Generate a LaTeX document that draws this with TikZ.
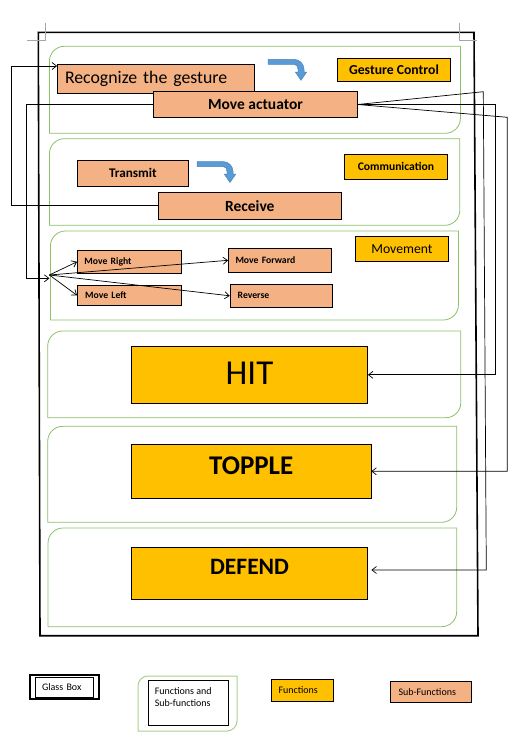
\documentclass[tikz,border=0pt]{standalone}
\usepackage{fontspec}
\setmainfont{Carlito}
\usetikzlibrary{arrows.meta}
\definecolor{subfill}{HTML}{F4B183}
\definecolor{funfill}{HTML}{FFC000}
\definecolor{panelgreen}{HTML}{8CC168}
\definecolor{leggreen}{HTML}{A9D18E}
\definecolor{arrowblue}{HTML}{5B9BD5}
\definecolor{arrowblueD}{HTML}{4A85C0}
\definecolor{markgray}{HTML}{A6A6A6}
\newcommand\myfs[1]{\fontsize{#1}{#1}\selectfont}
% style, radius, x1, y1, x2, y2  (round top-left and bottom-right corners)
\newcommand\rdpanel[6]{\draw[#1] (#3,#6) -- (#3,#4+#2) .. controls (#3,#4+0.448*#2) and (#3+0.448*#2,#4) .. (#3+#2,#4) -- (#5,#4) -- (#5,#6-#2) .. controls (#5,#6-0.448*#2) and (#5-0.448*#2,#6) .. (#5-#2,#6) -- cycle;}
\tikzset{
  subbox/.style={draw=black, line width=0.8pt, fill=subfill, inner sep=0pt},
  funbox/.style={draw=black, line width=0.8pt, fill=funfill, inner sep=0pt},
  conn/.style={draw=black, line width=0.7pt},
  arrtip/.style={-{Straight Barb[length=4.5pt,width=7pt]}},
  panelline/.style={draw=panelgreen, line width=0.8pt},
  legpanel/.style={draw=leggreen, line width=1pt},
  glass/.style={draw=black, line width=1.6pt},
  cropmark/.style={draw=markgray, line width=0.8pt},
  bentarrow/.pic={\draw[fill=arrowblue,draw=arrowblueD,line width=0.5pt] (0,0) -- (26,0) .. controls (31.5,0) and (36,4.5) .. (36,10) -- (36,12.7) -- (38.7,12.7) -- (33,21) -- (27.3,12.7) -- (30,12.7) -- (30,10) .. controls (30,7.2) and (28.8,5) .. (26,5) -- (0,5) -- cycle;}
}
\begin{document}
\begin{tikzpicture}[x=1pt,y=-1pt]
\useasboundingbox[fill=white] (0,0) rectangle (530,734);

% glass box and page corner marks
\draw[glass] (38.3,32.3) -- (474,32.3) -- (478,635.7) -- (40,635.7) -- cycle;
\draw[cropmark] (27,40) -- (45,40) -- (45,23.3);
\draw[cropmark] (459.5,23.3) -- (459.5,40) -- (476.5,40);

% function panels
\rdpanel{panelline}{15}{49.4}{46.3}{460.4}{133.3}
\rdpanel{panelline}{15}{49.4}{138.7}{459.8}{225.3}
\rdpanel{panelline}{15}{50.4}{231}{458.4}{320}
\rdpanel{panelline}{15}{47.7}{331}{460.8}{417.7}
\rdpanel{panelline}{15}{47.7}{426.3}{456.7}{522.3}
\rdpanel{panelline}{15}{48}{528}{456.7}{626.7}

% blue bent arrows
\pic at (268,59.3) {bentarrow};
\pic at (197,161.5) {bentarrow};

% gesture control
\node[subbox, text width=181.7pt, align=left, inner xsep=7.5pt, minimum height=29.3pt, font=\myfs{17.8}] (recog) at (155.85,78.65) {Recognize the gesture};
\node[subbox, minimum width=203.6pt, minimum height=25.6pt, font=\bfseries\myfs{15.5}] (act) at (255.5,104.5) {Move actuator};
\node[funbox, minimum width=113.2pt, minimum height=23pt, font=\bfseries\myfs{13.7}] (gc) at (394,69.8) {Gesture Control};

% communication
\node[subbox, minimum width=110.9pt, minimum height=25.7pt, font=\bfseries\myfs{13.2}] (trans) at (132.85,173.15) {Transmit};
\node[funbox, minimum width=102.8pt, minimum height=25pt, font=\bfseries\myfs{11.6}] (comm) at (395.9,166.8) {Communication};
\node[subbox, minimum width=183.3pt, minimum height=27pt, font=\bfseries\myfs{15.5}] (recv) at (249.85,205.8) {Receive};

% movement
\node[subbox, text width=89.8pt, align=left, inner xsep=7pt, minimum height=23pt, font=\bfseries\myfs{9.7}] (mr) at (129.3,261.8) {Move Right};
\node[subbox, text width=88.8pt, align=left, inner xsep=7pt, minimum height=24pt, font=\bfseries\myfs{9.7}] (mf) at (279.9,260.3) {Move Forward};
\node[subbox, text width=88.2pt, align=left, inner xsep=7.8pt, minimum height=20pt, font=\bfseries\myfs{9.7}] (ml) at (129.3,295.3) {Move Left};
\node[subbox, text width=87.1pt, align=left, inner xsep=7.5pt, minimum height=23pt, font=\bfseries\myfs{9.7}] (rev) at (281.25,295.8) {Reverse};
\node[funbox, minimum width=93.3pt, minimum height=25pt, font=\myfs{13.7}] (mov) at (401.95,248.8) {Movement};
\coordinate (hub) at (49.4,275);

% main functions
\node[funbox, minimum width=236pt, minimum height=57pt, text height=22.1pt, text depth=3pt, font=\myfs{35}] (hit) at (249.5,374.8) {HIT};
\node[funbox, minimum width=239.4pt, minimum height=54pt, text height=17.1pt, text depth=11pt, font=\bfseries\myfs{27}] (top) at (251.2,471.3) {TOPPLE};
\node[funbox, minimum width=235.8pt, minimum height=51.3pt, text height=14.85pt, text depth=13.2pt, font=\bfseries\myfs{23.5}] (def) at (249.6,573.35) {DEFEND};

% connectors
\draw[conn, arrtip] (recv.west) -| ([xshift=-45.5pt,yshift=12.65pt]recog.west) -- ([yshift=12.65pt]recog.west);
\draw[conn, arrtip] (act.west) -| ([xshift=-22.7pt,yshift=-3.3pt]hub) -- ([yshift=-3.3pt]hub);
\draw[conn, arrtip] (hub) -- (mr.west);
\draw[conn, arrtip] (hub) -- (mf.west);
\draw[conn, arrtip] (hub) -- (ml.west);
\draw[conn, arrtip] (hub) -- (rev.west);
\draw[conn, arrtip] (act.east) -- (483.3,91.7) -- (486.3,570) -- ([xshift=3.5pt,yshift=3.35pt]def.east);
\draw[conn, arrtip] (act.east) -| ([xshift=127.5pt]hit.east) -- (hit.east);
\draw[conn, arrtip] (act.east) -- (507.3,117.3) |- (top.east);

% legend
\node[draw=black, line width=2pt, minimum width=69pt, minimum height=24.5pt, inner sep=0pt] (legglass) at (64.5,686.75) {};
\node[draw=black, line width=0.8pt, text width=44pt, align=left, inner xsep=7pt, inner ysep=0pt, minimum height=20pt, font=\myfs{10}] (legglassin) at (64,687.3) {Glass Box};
\rdpanel{legpanel}{10}{138}{676}{237}{731}
\node[draw=black, line width=0.8pt, minimum width=80pt, minimum height=45pt, inner sep=0pt,
  label={[anchor=north west, xshift=7pt, yshift=-7.3pt, align=left, inner sep=0pt, font=\fontsize{10}{12}\selectfont]north west:{Functions and\\Sub-functions}}] (legfs) at (188,702.5) {};
\node[funbox, text width=48.2pt, align=left, inner xsep=7pt, minimum height=22.4pt, font=\myfs{10}] (legfun) at (302.6,690.5) {Functions};
\node[subbox, text width=65.1pt, align=left, inner xsep=8pt, minimum height=21pt, font=\myfs{10}] (legsub) at (431.05,692.2) {Sub-Functions};
\end{tikzpicture}
\end{document}
